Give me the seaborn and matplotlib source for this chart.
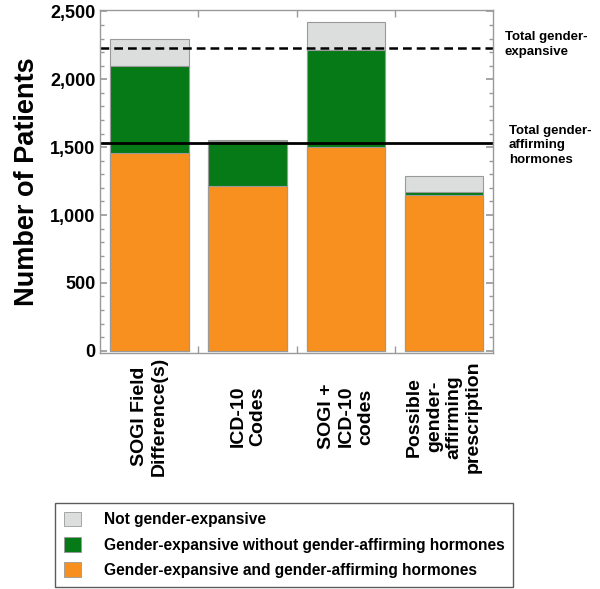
import matplotlib
matplotlib.use("Agg")
import matplotlib.pyplot as plt
from matplotlib.ticker import FixedLocator, MultipleLocator, FuncFormatter
from matplotlib.patches import Patch
import seaborn as sns
import pandas as pd
import numpy as np

categories = ["SOGI Field\nDifference(s)", "ICD-10\nCodes", "SOGI +\nICD-10\ncodes",
              "Possible\ngender-\naffirming\nprescription"]
ge_with_gah = [1457, 1211, 1499, 1150]
ge_without_gah = [639, 337, 720, 20]
not_ge = [201, 5, 201, 120]
total_gender_expansive = 2233
total_gah = 1528

series_names = ["Not gender-expansive",
                "Gender-expansive without gender-affirming hormones",
                "Gender-expansive and gender-affirming hormones"]
colors = ["#DCDEDD", "#067A17", "#F7901E"]

sns.set_theme(style="white")
plt.rcParams["font.family"] = ["Liberation Sans", "DejaVu Sans"]
plt.rcParams["font.weight"] = "bold"
plt.rcParams["text.color"] = "black"
plt.rcParams["axes.labelcolor"] = "black"
plt.rcParams["axes.labelweight"] = "bold"

lvl1 = np.array(ge_with_gah)
lvl2 = lvl1 + np.array(ge_without_gah)
lvl3 = lvl2 + np.array(not_ge)
df = pd.DataFrame({"cat": categories, "l1": lvl1, "l2": lvl2, "l3": lvl3})

fig = plt.figure(figsize=(6.0, 5.89), dpi=100)
ax = fig.add_axes([0.167, 0.401, 0.655, 0.582])

for col, c in zip(["l3", "l2", "l1"], colors):
    sns.barplot(data=df, x="cat", y=col, color=c, ax=ax, width=0.8,
                edgecolor="#9a9a9a", linewidth=0.8, saturation=1)

ax.axhline(total_gender_expansive, color="black", lw=1.8, ls=(0, (3.5, 2)))
ax.axhline(total_gah, color="black", lw=2.0)

ax.set_xlim(-0.5, 3.5)
ax.set_ylim(-15, 2510)
ax.set_xlabel("")
ax.set_ylabel("Number of Patients", fontsize=19.5, fontweight="heavy", color="black",
              labelpad=7)

ax.yaxis.set_major_locator(FixedLocator([0, 500, 1000, 1500, 2000, 2500]))
ax.yaxis.set_minor_locator(MultipleLocator(100))
ax.yaxis.set_major_formatter(FuncFormatter(lambda v, p: f"{int(v):,}"))
ax.tick_params(axis="y", which="both", direction="in", left=True, right=True,
               colors="#9a9a9a", labelcolor="black", labelsize=13)
ax.tick_params(axis="y", which="major", length=5)
ax.tick_params(axis="y", which="minor", length=3)
for t in ax.get_yticklabels():
    t.set_fontweight("bold")

ax.set_xticks(range(len(categories)))
ax.set_xticklabels(categories, rotation=90, fontsize=14, fontweight="bold",
                   ha="center", va="center", multialignment="center", color="black",
                   linespacing=1.2)
ax.xaxis.set_minor_locator(FixedLocator([0.5, 1.5, 2.5]))
ax.tick_params(axis="x", which="major", length=0, pad=46)
ax.tick_params(axis="x", which="minor", direction="in", bottom=True, top=True,
               length=5, color="#9a9a9a")

for s in ax.spines.values():
    s.set_color("#9a9a9a")
    s.set_linewidth(1.0)

ax.text(1.03, 2355, "Total gender-\nexpansive", transform=ax.get_yaxis_transform(),
        fontsize=9.5, fontweight="bold", va="top", ha="left", linespacing=1.3)
ax.text(1.04, 1665, "Total gender-\naffirming\nhormones", transform=ax.get_yaxis_transform(),
        fontsize=9.5, fontweight="bold", va="top", ha="left", linespacing=1.3)

handles = [Patch(facecolor=c, edgecolor="#9a9a9a", linewidth=0.6) for c in colors]
leg = fig.legend(handles, series_names, loc="upper left",
                 bbox_to_anchor=(55 / 600, 1 - 503 / 589), bbox_transform=fig.transFigure,
                 prop={"weight": "bold", "size": 11.2}, frameon=True, fancybox=False,
                 edgecolor="#333333", handlelength=1.1, handleheight=1.1,
                 handletextpad=1.5, labelspacing=0.62, borderpad=0.55, borderaxespad=0)
leg.get_frame().set_linewidth(1.0)

fig.savefig("out.png", dpi=100)
